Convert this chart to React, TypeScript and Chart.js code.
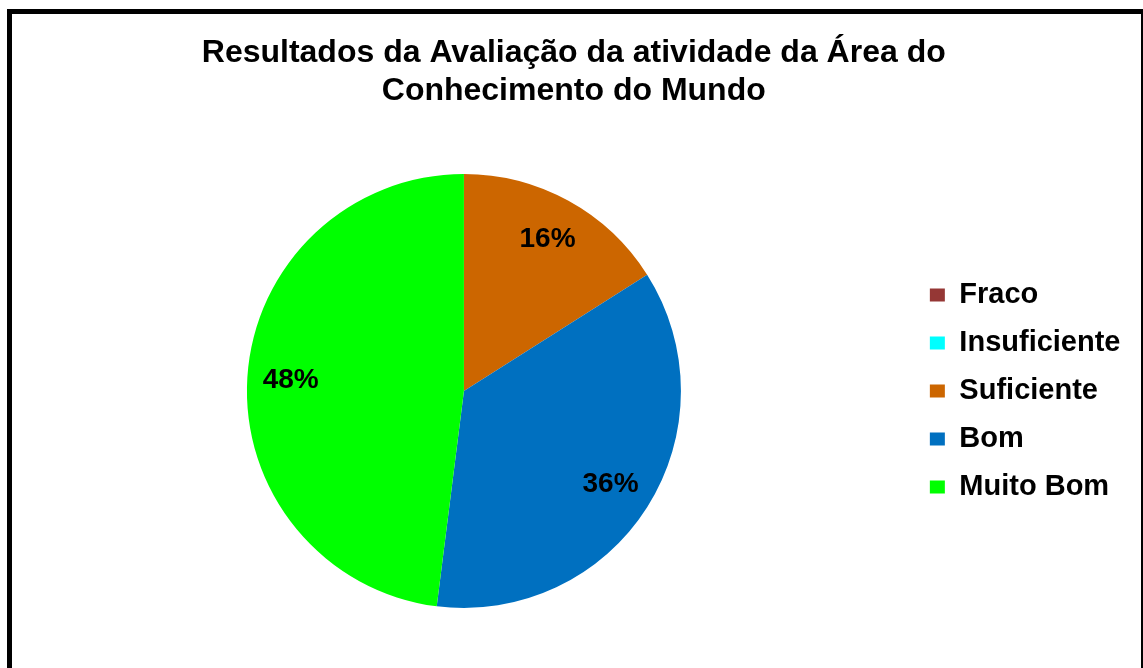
import React, { useEffect, useRef } from "react";
import { Chart, registerables } from "chart.js";

Chart.register(...registerables);

const titleLines = ["Resultados da Avaliação da atividade da Área do", "Conhecimento do Mundo"];
const categories = ["Fraco", "Insuficiente", "Suficiente", "Bom", "Muito Bom"];
const values = [0, 0, 16, 36, 48];
const colors = ["#953735", "#00FFFF", "#CC6600", "#0070C0", "#00FF00"];

const FONT = "'Liberation Sans', Arial, sans-serif";

const labelPlugin = {
  id: "sliceLabels",
  afterDatasetsDraw(chart: any) {
    const ctx = chart.ctx;
    const meta = chart.getDatasetMeta(0);
    const data = chart.data.datasets[0].data as number[];
    const total = data.reduce((a, b) => a + b, 0);
    ctx.save();
    ctx.font = `bold 28px ${FONT}`;
    ctx.fillStyle = "#000";
    ctx.textAlign = "center";
    ctx.textBaseline = "middle";
    meta.data.forEach((arc: any, i: number) => {
      const v = data[i];
      if (!v) return;
      const { x, y, startAngle, endAngle, outerRadius } = arc.getProps(
        ["x", "y", "startAngle", "endAngle", "outerRadius"],
        true
      );
      const mid = (startAngle + endAngle) / 2;
      const r = outerRadius * 0.8;
      const pct = Math.round((v / total) * 100) + "%";
      ctx.fillText(pct, x + Math.cos(mid) * r, y + Math.sin(mid) * r);
    });
    ctx.restore();
  },
};

export default function App() {
  const ref = useRef<HTMLCanvasElement | null>(null);
  useEffect(() => {
    if (!ref.current) return;
    const chart = new Chart(ref.current, {
      type: "pie",
      data: {
        labels: categories,
        datasets: [
          {
            data: values,
            backgroundColor: colors,
            borderWidth: 0,
          },
        ],
      },
      options: {
        animation: false,
        responsive: false,
        maintainAspectRatio: false,
        layout: { padding: { left: 17, right: 12.5, top: 0, bottom: 60 } },
        plugins: {
          tooltip: { enabled: false },
          title: {
            display: true,
            text: titleLines,
            color: "#000",
            font: { family: FONT, size: 32, weight: "bold", lineHeight: 1.1875 },
            padding: { top: 34, bottom: 64 },
          },
          legend: {
            position: "right",
            fullSize: false,
            labels: {
              color: "#000",
              font: { family: FONT, size: 29, weight: "bold" },
              boxWidth: 15,
              boxHeight: 13,
              padding: 19,
            },
          },
        },
      },
      plugins: [labelPlugin],
    });
    return () => chart.destroy();
  }, []);
  return (
    <div>
      <canvas
        ref={ref}
        width={1143}
        height={668}
        style={{ position: "fixed", left: 0, top: 0, width: 1143, height: 668, background: "#fff" }}
      />
      <div
        style={{
          position: "fixed",
          left: 7,
          top: 9,
          width: 1139,
          height: 700,
          border: "5px solid #000",
          boxSizing: "border-box",
          pointerEvents: "none",
        }}
      />
    </div>
  );
}
